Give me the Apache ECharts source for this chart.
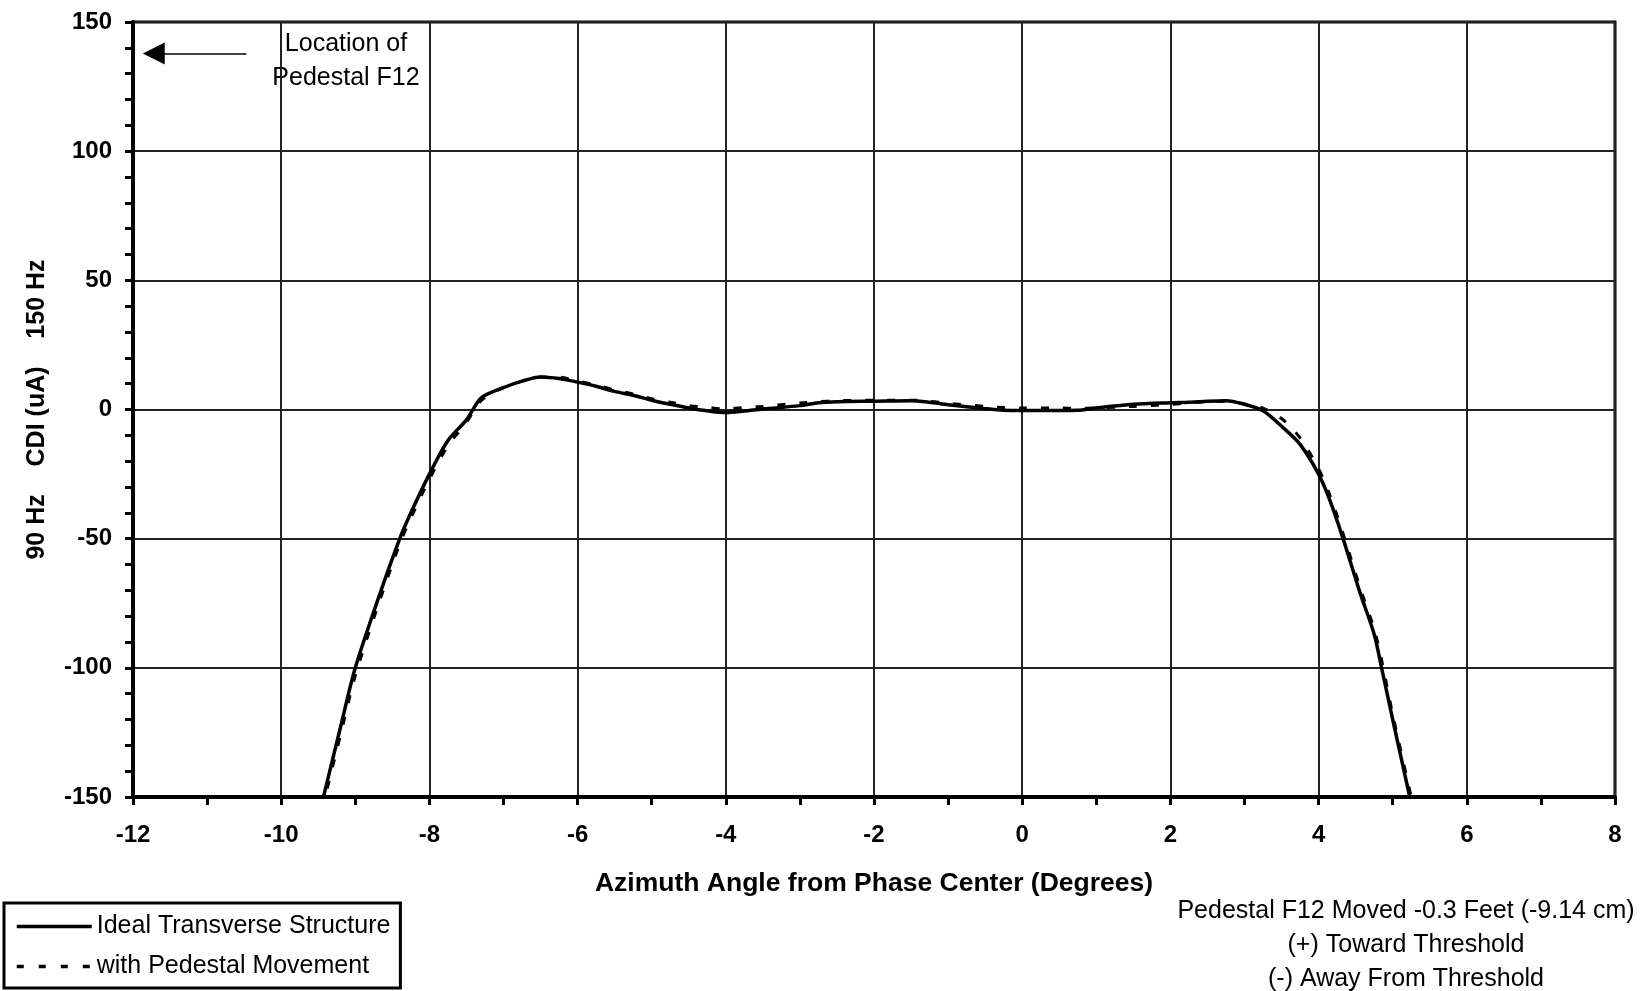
<!DOCTYPE html>
<html>
<head>
<meta charset="utf-8">
<title>CDI vs Azimuth</title>
<script src="https://cdn.jsdelivr.net/npm/echarts@6/dist/echarts.min.js"></script>
<style>
    html, body { margin: 0; padding: 0; background: #fff; }
    #chart { width: 1652px; height: 991px; }
</style>
</head>
<body>
<div id="chart"></div>
<script>
// azimuth angle (degrees) sampled along the curves
const angles = [-9.45, -9.2, -9.0, -8.7, -8.4, -8.25, -8.0, -7.75, -7.5, -7.3,
    -7.0, -6.75, -6.5, -6.25, -6.0, -5.75, -5.5, -5.25, -5.0, -4.75,
    -4.5, -4.25, -4.0, -3.75, -3.5, -3.0, -2.75, -2.5, -2.0, -1.5,
    -1.25, -1.0, -0.5, -0.25, 0, 0.5, 0.75, 1.0, 1.5, 2.0,
    2.25, 2.5, 2.75, 3.0, 3.25, 3.5, 3.75, 4.0, 4.15, 4.33,
    4.56, 4.75, 4.85, 5.0, 5.25];

// CDI (uA) - ideal transverse structure
const idealCdi = [-152.4, -123, -100, -74, -50, -40, -25, -12, -4, 4.5,
    8.5, 11, 12.6, 12, 10.6, 9, 7, 5.5, 3.6, 2,
    0.6, -0.5, -1.2, -0.6, 0.2, 1.5, 2.6, 3, 3.2, 3.4,
    2.8, 1.8, 0.3, -0.3, -0.4, -0.4, -0.3, 0.6, 2.0, 2.6,
    2.8, 3.2, 3.4, 2, -0.5, -6.5, -13.5, -25, -35, -50,
    -71, -87, -100, -120, -152.6];

// CDI (uA) - with pedestal movement
const movedCdi = [-155, -126, -103, -76.5, -52, -42, -27, -14, -5, 3.5,
    8.5, 11, 12.6, 12.5, 11, 9.5, 7.5, 6, 4.2, 2.8,
    1.5, 0.8, 0.2, 0.8, 1.2, 2.5, 3, 3.4, 3.6, 3.6,
    3.2, 2.4, 1.2, 0.8, 0.6, 0.6, 0.4, 0.6, 1.2, 2.0,
    2.5, 3.0, 3.2, 2.2, 0.5, -3.5, -11, -23, -33, -48,
    -69, -85, -97, -118, -150];

// arrow pointing at the pedestal location (data coords)
const arrowFrom = [-10.47, 137.8];
const arrowTo = [-11.72, 137.8];

const seriesNames = ['Ideal Transverse Structure', 'with Pedestal Movement'];
const noteLines = ['Pedestal F12 Moved -0.3 Feet (-9.14 cm)', '(+) Toward Threshold', '(-) Away From Threshold'];

const FONT = '"Liberation Sans", Arial, sans-serif';

const chart = echarts.init(document.getElementById('chart'));

const option = {
    backgroundColor: '#fff',
    animation: false,
    textStyle: { fontFamily: FONT, color: '#000' },
    grid: {
        left: 133,
        top: 22,
        width: 1482,
        height: 775,
        show: true,
        borderColor: '#000',
        borderWidth: 3,
        backgroundColor: 'transparent'
    },
    legend: {
        left: 4,
        top: 903,
        orient: 'vertical',
        padding: [11, 10, 9, 11],
        itemGap: 15,
        itemWidth: 75,
        itemHeight: 25,
        borderColor: '#000',
        borderWidth: 3,
        // hide the round marker, keep only the line sample
        itemStyle: { color: 'transparent', borderWidth: 0, opacity: 0 },
        textStyle: { fontFamily: FONT, fontSize: 25, color: '#000' },
        data: [
            { name: seriesNames[0], lineStyle: { width: 3.5, type: 'solid' } },
            { name: seriesNames[1], lineStyle: { width: 3.5, type: [7, 15] } }
        ]
    },
    xAxis: {
        type: 'value',
        min: -12,
        max: 8,
        interval: 2,
        name: 'Azimuth Angle from Phase Center (Degrees)',
        nameLocation: 'middle',
        nameGap: 73,
        nameTextStyle: { fontFamily: FONT, fontSize: 26.5, fontWeight: 'bold', color: '#000' },
        axisLine: { show: true, onZero: false, lineStyle: { color: '#000', width: 4 } },
        axisTick: { show: true, inside: false, length: 8, lineStyle: { color: '#000', width: 3 } },
        minorTick: { show: true, splitNumber: 2, length: 8, lineStyle: { color: '#000', width: 3 } },
        axisLabel: { fontFamily: FONT, fontSize: 24, fontWeight: 'bold', color: '#000', margin: 26 },
        splitLine: { show: true, lineStyle: { color: '#222', width: 2 } }
    },
    yAxis: {
        type: 'value',
        min: -150,
        max: 150,
        interval: 50,
        name: '90 Hz    CDI (uA)    150 Hz',
        nameLocation: 'middle',
        nameRotate: 90,
        nameGap: 83,
        nameTextStyle: { fontFamily: FONT, fontSize: 25, fontWeight: 'bold', color: '#000' },
        axisLine: { show: true, onZero: false, lineStyle: { color: '#000', width: 4 } },
        axisTick: { show: true, inside: false, length: 8, lineStyle: { color: '#000', width: 3 } },
        minorTick: { show: true, splitNumber: 5, length: 8, lineStyle: { color: '#000', width: 3 } },
        axisLabel: { fontFamily: FONT, fontSize: 24, fontWeight: 'bold', color: '#000', margin: 21 },
        splitLine: { show: true, lineStyle: { color: '#222', width: 2 } }
    },
    series: [
        {
            name: seriesNames[0],
            type: 'line',
            data: angles.map((a, i) => [a, idealCdi[i]]),
            showSymbol: false,
            symbol: 'none',
            smooth: 0.3,
            clip: true,
            lineStyle: { color: '#000', width: 3.5 },
            itemStyle: { color: '#000' },
            z: 3,
            markLine: {
                silent: true,
                symbol: ['none', 'triangle'],
                symbolSize: [22, 22],
                label: { show: false },
                lineStyle: { color: '#000', width: 1.5, type: 'solid' },
                data: [[{ coord: arrowFrom }, { coord: arrowTo }]]
            }
        },
        {
            name: seriesNames[1],
            type: 'line',
            data: angles.map((a, i) => [a, movedCdi[i]]),
            showSymbol: false,
            symbol: 'none',
            smooth: 0.3,
            clip: true,
            lineStyle: { color: '#000', width: 3, type: [8, 14] },
            itemStyle: { color: '#000' },
            z: 4
        }
    ],
    graphic: [
        {
            type: 'text',
            x: 346,
            y: 27,
            style: {
                text: 'Location of\nPedestal F12',
                fontFamily: FONT,
                fontSize: 25,
                lineHeight: 34,
                fill: '#000',
                align: 'center',
                verticalAlign: 'top'
            }
        },
        {
            type: 'text',
            x: 1406,
            y: 894,
            style: {
                text: noteLines.join('\n'),
                fontFamily: FONT,
                fontSize: 25,
                lineHeight: 34,
                fill: '#000',
                align: 'center',
                verticalAlign: 'top'
            }
        }
    ]
};

chart.setOption(option);
</script>
</body>
</html>
